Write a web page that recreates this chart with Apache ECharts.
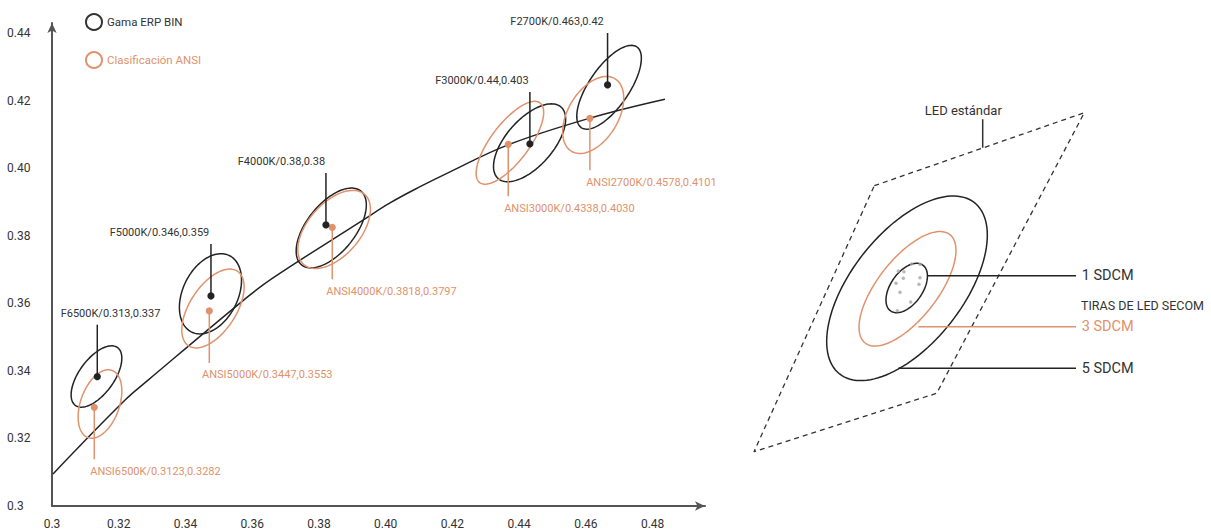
<!DOCTYPE html>
<html><head><meta charset="utf-8">
<script src="https://cdn.jsdelivr.net/npm/echarts@6/dist/echarts.min.js"></script>
<style>html,body{margin:0;padding:0;background:#fff}#c{width:1211px;height:531px}</style>
</head><body><div id="c"></div>
<script>
// ---------- tick labels ----------
const xTickLabels = ['0.3','0.32','0.34','0.36','0.38','0.40','0.42','0.44','0.46','0.48'];
const yTickLabels = ['0.3','0.32','0.34','0.36','0.38','0.40','0.42','0.44'];
const legendNames = ['Gama ERP BIN','Clasificación ANSI'];

// ---------- Gama ERP BIN (black) ----------
const ergLabels = ['F6500K/0.313,0.337','F5000K/0.346,0.359','F4000K/0.38,0.38','F3000K/0.44,0.403','F2700K/0.463,0.42'];
const ergPoints = [[0.31357,0.33831],[0.34764,0.36222],[0.3821,0.38326],[0.44322,0.40726],[0.4665,0.42474]];
// [cx, cy, semi-major, semi-minor, angle deg]
const ergEllipses = [
  [0.31333,0.33837,0.01064,0.00521,53.4],
  [0.34749,0.36287,0.01266,0.00822,63],
  [0.38369,0.38237,0.01409,0.00721,50.8],
  [0.44313,0.40761,0.01418,0.00700,48.1],
  [0.46695,0.42406,0.01457,0.00596,55]
];

// ---------- Clasificación ANSI (orange) ----------
const ansiLabels = ['ANSI6500K/0.3123,0.3282','ANSI5000K/0.3447,0.3553','ANSI4000K/0.3818,0.3797','ANSI3000K/0.4338,0.4030','ANSI2700K/0.4578,0.4101'];
const ansiPoints = [[0.31267,0.32924],[0.34714,0.35778],[0.38399,0.38258],[0.43673,0.40717],[0.4612,0.41487]];
const ansiEllipses = [
  [0.31438,0.33022,0.01058,0.00581,70],
  [0.34824,0.35852,0.01326,0.00691,56.3],
  [0.38455,0.38193,0.01383,0.00781,48.4],
  [0.43723,0.40761,0.01487,0.00566,52.4],
  [0.46219,0.41585,0.01257,0.00748,58.5]
];

// ---------- Planckian locus ----------
const planckianLocus = [[0.3003,0.3095],[0.3219,0.3314],[0.3288,0.3373],[0.3578,0.3613],[0.3658,0.3673],[0.3932,0.3847],[0.4013,0.3898],[0.4103,0.3946],[0.4193,0.3990],[0.4367,0.4070],[0.4612,0.4149],[0.4837,0.4205]];

// ---------- right schematic (diagram units) ----------
const ledStandardArea = [[134.3,95.7],[344.3,22.7],[196.7,303.3],[14,361.7],[134.3,95.7]];
const ledStandardLeader = [[242.7,29.3],[242.7,57.8]];
const sdcmEllipses = [[167,198.3,109,55.6,51.8],[167.5,198.8,68.8,29.9,52],[166.7,198,28,16,55]];
const secomSamples = [[158.3,181],[164,181.7],[171.7,174],[180,174.3],[156,193.3],[163.3,188.3],[180,187.7],[179,194.3],[160,202.3],[170.7,212],[157.3,220.7]];
const sdcmLeaders = [[[158.3,278.3],[336,278.3]],[[178.3,236.7],[336,236.7]],[[187.3,185.7],[336,185.7]]];
const diagramTexts = [
  [223.3,20.7,'LED estándar'],
  [341.7,185.7,'1 SDCM'],
  [341,215,'TIRAS DE LED SECOM'],
  [341.7,236.7,'3 SDCM'],
  [341.7,278.3,'5 SDCM']
];

// ---------- styles / layout ----------
const BLACK = '#232323', ORANGE = '#e0926c', TEXT = '#333', FONT = 'Roboto';
const ergLabelDx = [13.2,-51.5,-44.5,-48,-50.5];
const ansiLabelDx = [61.2,58,59.2,61.2,61.5];
const sdcmColors = [BLACK, ORANGE, BLACK];
const diagramTextStyle = [
  {color:TEXT,size:13,align:'center'},
  {color:TEXT,size:14.5,align:'left'},
  {color:TEXT,size:12.5,align:'left'},
  {color:ORANGE,size:14.5,align:'left'},
  {color:TEXT,size:14.5,align:'left'}
];

function ellipseRender(colors, lw){
  return function(params, api){
    const c = api.coord([api.value(0), api.value(1)]);
    const s = api.size([1,1]);
    const a = api.value(2), b = api.value(3), th = api.value(4)*Math.PI/180;
    const pts = [];
    for (let k=0;k<=120;k++){
      const t = k/120*2*Math.PI;
      const ex = a*Math.cos(t), ey = b*Math.sin(t);
      const dx = ex*Math.cos(th) - ey*Math.sin(th);
      const dy = ex*Math.sin(th) + ey*Math.cos(th);
      pts.push([c[0]+dx*s[0], c[1]-dy*s[1]]);
    }
    const col = Array.isArray(colors) ? colors[params.dataIndex] : colors;
    return {type:'polyline', shape:{points:pts}, style:{fill:null, stroke:col, lineWidth:lw}};
  };
}

function marksRender(labels, dxs, color, dir, lineLen, lblOff){
  return function(params, api){
    const i = params.dataIndex;
    const c = api.coord([api.value(0), api.value(1)]);
    return {type:'group', children:[
      {type:'line', shape:{x1:c[0], y1:c[1], x2:c[0], y2:c[1]+dir*lineLen}, style:{stroke:color, lineWidth:1.5}},
      {type:'circle', shape:{cx:c[0], cy:c[1], r:3.6}, style:{fill:color}},
      {type:'text', x:c[0]+dxs[i], y:c[1]+dir*lblOff, style:{text:labels[i], fill:color===BLACK?TEXT:ORANGE, fontSize:11, fontFamily:FONT, align:'center', verticalAlign:'middle'}}
    ]};
  };
}

function tickFmt(list){
  return function(v){
    const i = Math.round((v-0.3)/0.02);
    if (Math.abs(v-(0.3+i*0.02))>1e-6) return '';
    return list[i] || '';
  };
}

const chart = echarts.init(document.getElementById('c'), null, {renderer:'svg'});
chart.setOption({
  animation:false,
  backgroundColor:'#fff',
  textStyle:{fontFamily:FONT},
  legend:{
    orient:'vertical', left:80, top:8, itemWidth:16, itemHeight:16, itemGap:20, icon:'circle', selectedMode:false,
    data:[
      {name:legendNames[0], itemStyle:{color:'#fff', borderColor:'#333', borderWidth:2}, textStyle:{color:TEXT}},
      {name:legendNames[1], itemStyle:{color:'#fff', borderColor:ORANGE, borderWidth:2}, textStyle:{color:ORANGE}}
    ],
    textStyle:{fontFamily:FONT, fontSize:11.5, padding:[0,0,0,0]}
  },
  grid:[
    {left:52, right:506, top:23, bottom:25},
    {left:740, top:90, width:471, height:370}
  ],
  xAxis:[
    {type:'value', gridIndex:0, min:0.3, max:0.4957, interval:0.02,
     axisLine:{show:true, lineStyle:{color:'#555', width:2}, symbol:['none','arrow'], symbolSize:[7,10]},
     axisTick:{show:false}, splitLine:{show:false},
     axisLabel:{formatter:tickFmt(xTickLabels), color:TEXT, fontSize:12, fontFamily:FONT, margin:12, showMaxLabel:false}},
    {type:'value', gridIndex:1, min:0, max:471, show:false}
  ],
  yAxis:[
    {type:'value', gridIndex:0, min:0.3, max:0.4431, interval:0.02,
     axisLine:{show:true, lineStyle:{color:'#555', width:2}, symbol:['none','arrow'], symbolSize:[7,10]},
     axisTick:{show:false}, splitLine:{show:false},
     axisLabel:{formatter:tickFmt(yTickLabels), color:TEXT, fontSize:12, fontFamily:FONT, margin:45, align:'left', padding:[0,0,6,0], showMaxLabel:false}},
    {type:'value', gridIndex:1, min:0, max:370, inverse:true, show:false}
  ],
  series:[
    {type:'line', name:'locus', xAxisIndex:0, yAxisIndex:0, data:planckianLocus, smooth:0.4, showSymbol:false, symbol:'none',
     lineStyle:{color:BLACK, width:1.5}, z:2},
    {type:'custom', name:legendNames[0], xAxisIndex:0, yAxisIndex:0, data:ergEllipses, renderItem:ellipseRender(BLACK,1.5),
     itemStyle:{color:BLACK}, encode:{x:0,y:1}, z:3},
    {type:'custom', name:legendNames[1], xAxisIndex:0, yAxisIndex:0, data:ansiEllipses, renderItem:ellipseRender(ORANGE,1.5),
     itemStyle:{color:ORANGE}, encode:{x:0,y:1}, z:3},
    {type:'custom', name:'ergMarks', xAxisIndex:0, yAxisIndex:0, data:ergPoints, renderItem:marksRender(ergLabels, ergLabelDx, BLACK, -1, 52, 63), encode:{x:0,y:1}, z:5},
    {type:'custom', name:'ansiMarks', xAxisIndex:0, yAxisIndex:0, data:ansiPoints, renderItem:marksRender(ansiLabels, ansiLabelDx, ORANGE, 1, 52, 64), encode:{x:0,y:1}, z:4},
    // right schematic
    {type:'line', name:'ledArea', xAxisIndex:1, yAxisIndex:1, data:ledStandardArea, showSymbol:false, symbol:'none',
     lineStyle:{color:'#333', width:1.3, type:[5,4]}},
    {type:'line', name:'ledLeader', xAxisIndex:1, yAxisIndex:1, data:ledStandardLeader, showSymbol:false, symbol:'none',
     lineStyle:{color:'#333', width:1.5}},
    {type:'custom', name:'sdcm', xAxisIndex:1, yAxisIndex:1, data:sdcmEllipses, renderItem:ellipseRender(sdcmColors,1.5), encode:{x:0,y:1}},
    {type:'scatter', name:'samples', xAxisIndex:1, yAxisIndex:1, data:secomSamples, symbolSize:3.5, itemStyle:{color:'#a8a8a8'}},
    ...sdcmLeaders.map((d,i)=>({type:'line', name:'leader'+i, xAxisIndex:1, yAxisIndex:1, data:d, showSymbol:false, symbol:'none',
      lineStyle:{color:sdcmColors[i], width:1.5}})),
    {type:'custom', name:'diagramTexts', xAxisIndex:1, yAxisIndex:1, data:diagramTexts.map(d=>[d[0],d[1]]),
     encode:{x:0,y:1},
     renderItem:function(params, api){
       const i = params.dataIndex, st = diagramTextStyle[i];
       const c = api.coord([api.value(0), api.value(1)]);
       return {type:'text', x:c[0], y:c[1], style:{text:diagramTexts[i][2], fill:st.color, fontSize:st.size, fontFamily:FONT, align:st.align, verticalAlign:'middle'}};
     }}
  ]
});
</script></body></html>
